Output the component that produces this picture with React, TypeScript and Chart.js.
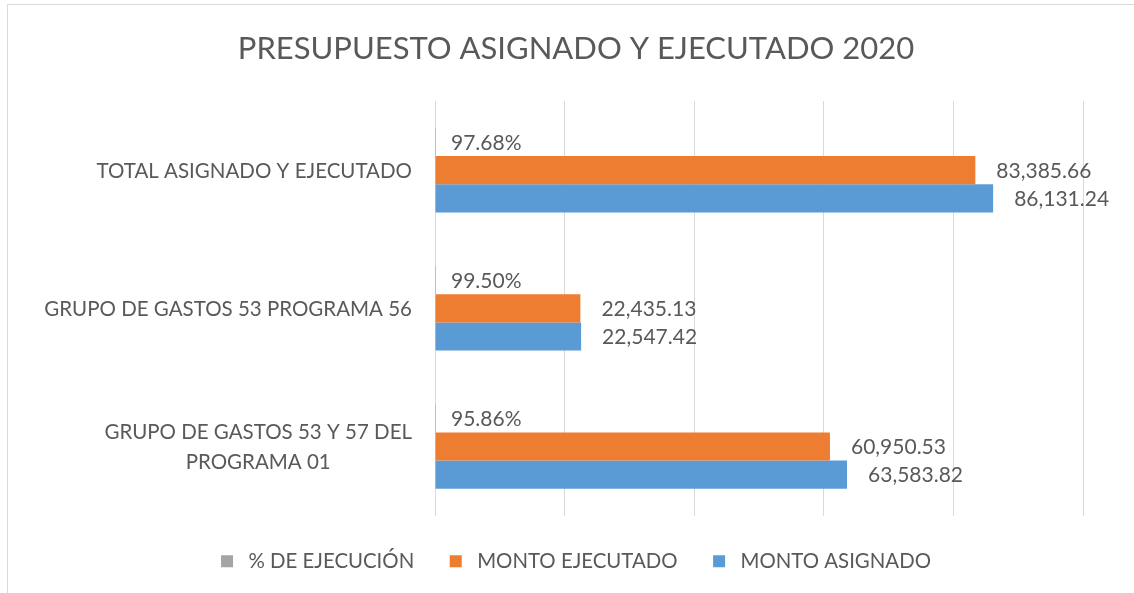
import React, { useEffect, useRef } from 'react';
import { Chart, registerables } from 'chart.js';

Chart.register(...registerables);

const TITLE = 'PRESUPUESTO ASIGNADO Y EJECUTADO 2020';
const CATEGORIES: (string | string[])[] = [
  'TOTAL ASIGNADO Y EJECUTADO',
  'GRUPO DE GASTOS 53 PROGRAMA 56',
  ['GRUPO DE GASTOS 53 Y 57 DEL', 'PROGRAMA 01'],
];
const SERIES_NAMES = ['% DE EJECUCIÓN', 'MONTO EJECUTADO', 'MONTO ASIGNADO'];
const SERIES_COLORS = ['#A5A5A5', '#ED7D31', '#5B9BD5'];
const PCT_EJECUCION = [0.9768, 0.995, 0.9586];
const MONTO_EJECUTADO = [83385.66, 22435.13, 60950.53];
const MONTO_ASIGNADO = [86131.24, 22547.42, 63583.82];
const X_MIN = 0;
const X_MAX = 100000;
const X_STEP = 20000;

const FONT = 'Lato, "Open Sans", sans-serif';
const TEXT_COLOR = '#595959';
const GRID_COLOR = '#D9D9D9';

const fmtNum = (v: number) =>
  v.toLocaleString('en-US', { minimumFractionDigits: 2, maximumFractionDigits: 2 });
const fmtPct = (v: number) => (v * 100).toFixed(2) + '%';

const valueLabels = {
  id: 'valueLabels',
  afterDatasetsDraw(chart: any) {
    const ctx = chart.ctx;
    ctx.save();
    ctx.font = `21px ${FONT}`;
    ctx.fillStyle = TEXT_COLOR;
    ctx.textAlign = 'left';
    ctx.textBaseline = 'middle';
    chart.data.datasets.forEach((ds: any, di: number) => {
      const meta = chart.getDatasetMeta(di);
      meta.data.forEach((bar: any, i: number) => {
        const v = ds.data[i] as number;
        const isPct = di === 0;
        const text = isPct ? fmtPct(v) : fmtNum(v);
        const off = isPct ? 16 : 21;
        ctx.fillText(text, bar.x + off, bar.y + 1);
      });
    });
    ctx.restore();
  },
};

const categoryLabels = {
  id: 'categoryLabels',
  afterDraw(chart: any) {
    const ctx = chart.ctx;
    const yScale = chart.scales.y;
    ctx.save();
    ctx.font = `20.5px ${FONT}`;
    ctx.fillStyle = TEXT_COLOR;
    ctx.textAlign = 'center';
    ctx.textBaseline = 'middle';
    const right = yScale.right - 23;
    const lh = 29.5;
    CATEGORIES.forEach((lab, i) => {
      const lines = Array.isArray(lab) ? lab : [lab];
      const bw = Math.max(...lines.map((l) => ctx.measureText(l).width));
      const cx = right - bw / 2;
      const cy = yScale.getPixelForValue(i);
      lines.forEach((l, k) => {
        ctx.fillText(l, cx, cy + 1 + (k - (lines.length - 1) / 2) * lh);
      });
    });
    ctx.restore();
  },
};

export default function App() {
  const canvasRef = useRef<HTMLCanvasElement | null>(null);

  useEffect(() => {
    if (!canvasRef.current) return;
    const values = [PCT_EJECUCION, MONTO_EJECUTADO, MONTO_ASIGNADO];
    const chart = new Chart(canvasRef.current, {
      type: 'bar',
      data: {
        labels: CATEGORIES as any,
        datasets: SERIES_NAMES.map((name, i) => ({
          label: name,
          data: values[i],
          backgroundColor: SERIES_COLORS[i],
          borderWidth: 0,
          categoryPercentage: 0.612,
          barPercentage: 1.0,
        })),
      },
      options: {
        indexAxis: 'y',
        responsive: false,
        animation: false,
        events: [],
        layout: { padding: { left: 69, right: 51, top: 0, bottom: 11.5 } },
        scales: {
          x: {
            type: 'linear',
            min: X_MIN,
            max: X_MAX,
            ticks: { stepSize: X_STEP, display: false },
            grid: { color: GRID_COLOR, lineWidth: 1, drawTicks: false },
            border: { display: false },
            afterFit: (s: any) => {
              s.height = 0;
            },
          },
          y: {
            type: 'category',
            ticks: { display: false },
            grid: { display: false, drawTicks: false },
            border: { display: false },
            afterFit: (s: any) => {
              s.width = 366;
            },
          },
        },
        plugins: {
          title: {
            display: true,
            text: TITLE,
            color: TEXT_COLOR,
            font: { family: FONT, size: 31, weight: 'normal' },
            padding: { top: 30.2, bottom: 33.6 },
          },
          legend: {
            display: true,
            position: 'bottom',
            labels: {
              boxWidth: 12,
              boxHeight: 12,
              padding: 35.5,
              color: TEXT_COLOR,
              font: { family: FONT, size: 20.4 },
              generateLabels: (c: any) =>
                Chart.defaults.plugins.legend.labels
                  .generateLabels(c)
                  .map((it: any) => ({ ...it, text: ' ' + it.text, lineWidth: 0 })),
            },
          },
          tooltip: { enabled: false },
        },
      } as any,
      plugins: [valueLabels, categoryLabels],
    });
    return () => chart.destroy();
  }, []);

  return (
    <div
      style={{
        position: 'absolute',
        left: 0,
        top: 0,
        width: 1134,
        height: 593,
        overflow: 'hidden',
        background: '#FFFFFF',
      }}
    >
      <div
        style={{
          position: 'absolute',
          left: 7,
          top: 4,
          width: 1200,
          height: 700,
          border: `1px solid ${GRID_COLOR}`,
          boxSizing: 'border-box',
        }}
      />
      <canvas
        ref={canvasRef}
        width={1134}
        height={593}
        style={{ position: 'absolute', left: 0, top: 0, width: 1134, height: 593 }}
      />
    </div>
  );
}
